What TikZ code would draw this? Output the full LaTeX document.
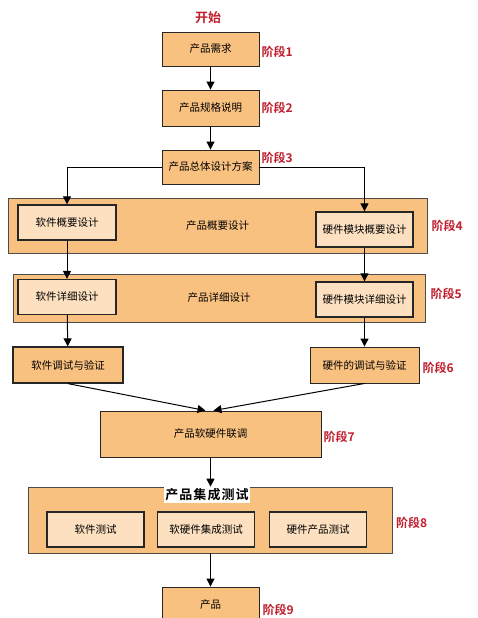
\documentclass[tikz,border=0pt]{standalone}
\usepackage{fontspec}
\setmainfont{Noto Sans CJK SC}[BoldFont={Noto Sans CJK SC Bold}]
\usetikzlibrary{arrows.meta, positioning}
\definecolor{bandorange}{RGB}{249,193,128}
\definecolor{boxlight}{RGB}{252,224,192}
\definecolor{stagered}{RGB}{192,30,45}

\begin{document}
\begin{tikzpicture}[
    x=1pt, y=-1pt,
    node distance=2pt,
    stepbox/.style={rectangle, draw=black!85, fill=bandorange, line width=0.9pt, minimum width=#1, font=\fontsize{10.5}{12}\selectfont, inner sep=0pt},
    stepbox/.default=97pt,
    band/.style={rectangle, draw=black!70, fill=bandorange, line width=0.7pt, font=\fontsize{10.5}{12}\selectfont, inner sep=0pt},
    innerbox/.style={rectangle, draw=black!85, fill=boxlight, line width=1.3pt, minimum width=97pt, minimum height=35pt, font=\fontsize{10.5}{12}\selectfont, inner sep=0pt},
    stage/.style={fill=white, text=stagered, font=\fontsize{12}{14}\selectfont\bfseries, inner sep=1pt},
    arrow/.style={-{Triangle[length=8pt,width=8pt]}, line width=1pt},
]
    \useasboundingbox (0,0) rectangle (477,618);

    % Start and first stages
    \node[text=stagered, font=\fontsize{13}{15}\selectfont\bfseries] (start) at (208,18) {开始};
    \node[stepbox, minimum height=34pt] (req) at (210.5,49) {产品需求};
    \node[stepbox, minimum height=36pt] (spec) at (210.5,108) {产品规格说明};
    \node[stepbox, minimum height=34pt] (plan) at (210.5,167) {产品总体设计方案};

    % Outline design
    \node[band, minimum width=419pt, minimum height=55pt] (band4) at (217.5,225.5) {产品概要设计};
    \node[innerbox, minimum width=98pt] (sw4) at (67,222.5) {软件概要设计};
    \node[innerbox] (hw4) at (364.5,229.5) {硬件模块概要设计};

    % Detailed design
    \node[band, minimum width=412pt, minimum height=48pt] (band5) at (219,298) {产品详细设计};
    \node[innerbox, minimum width=98pt] (sw5) at (67,297) {软件详细设计};
    \node[innerbox] (hw5) at (364.5,299.5) {硬件模块详细设计};

    % Debugging
    \node[stepbox=110pt, minimum height=36pt, line width=1.2pt] (sw6) at (68,365) {软件调试与验证};
    \node[stepbox=109pt, minimum height=36pt] (hw6) at (364.5,365) {硬件的调试与验证};
    \node[stepbox=221pt, minimum height=46pt] (joint) at (210.5,434) {产品软硬件联调};

    % Integration tests
    \node[band, minimum width=364pt, minimum height=66pt] (band8) at (210.5,520) {};
    \node[fill=white, font=\fontsize{13}{15}\selectfont\bfseries\addfontfeature{LetterSpace=8}, inner sep=1.5pt] (title8) at (207,495) {产品集成测试};
    \node[innerbox] (swtest) at (95.5,529.5) {软件测试};
    \node[innerbox] (jointtest) at (206,529.5) {软硬件集成测试};
    \node[innerbox] (hwtest) at (318,529.5) {硬件产品测试};

    % Product
    \node[stepbox, minimum height=36pt] (prod) at (210.5,605) {产品};

    % Stage labels
    \node[stage, right=1pt of req, yshift=-3pt] (s1) {阶段1};
    \node[stage, right=1pt of spec] (s2) {阶段2};
    \node[stage, right=1pt of plan, yshift=9pt] (s3) {阶段3};
    \node[stage, right=3pt of band4] (s4) {阶段4};
    \node[stage, right=4pt of band5, yshift=4pt] (s5) {阶段5};
    \node[stage, right=2pt of hw6, yshift=-3pt] (s6) {阶段6};
    \node[stage, right=1pt of joint, yshift=-3pt] (s7) {阶段7};
    \node[stage, right=2pt of band8, yshift=-3pt] (s8) {阶段8};
    \node[stage, right=2pt of prod, yshift=-5pt] (s9) {阶段9};

    % Arrows
    \draw[arrow] (req) -- (spec);
    \draw[arrow] (spec) -- (plan);
    \draw[arrow] (plan.west) -| (sw4.north);
    \draw[arrow] (plan.east) -| (hw4.north);
    \draw[arrow] (sw4) -- (sw5);
    \draw[arrow] (hw4) -- (hw5);
    \draw[arrow] (sw5) -- (sw6);
    \draw[arrow] (hw5) -- (hw6);
    \draw[arrow] (sw6.south) -- ([xshift=-5pt]joint.north);
    \draw[arrow] (hw6.south) -- ([xshift=3pt]joint.north);
    \draw[arrow] (joint) -- (band8);
    \draw[arrow] (band8) -- (prod);

\end{tikzpicture}
\end{document}
